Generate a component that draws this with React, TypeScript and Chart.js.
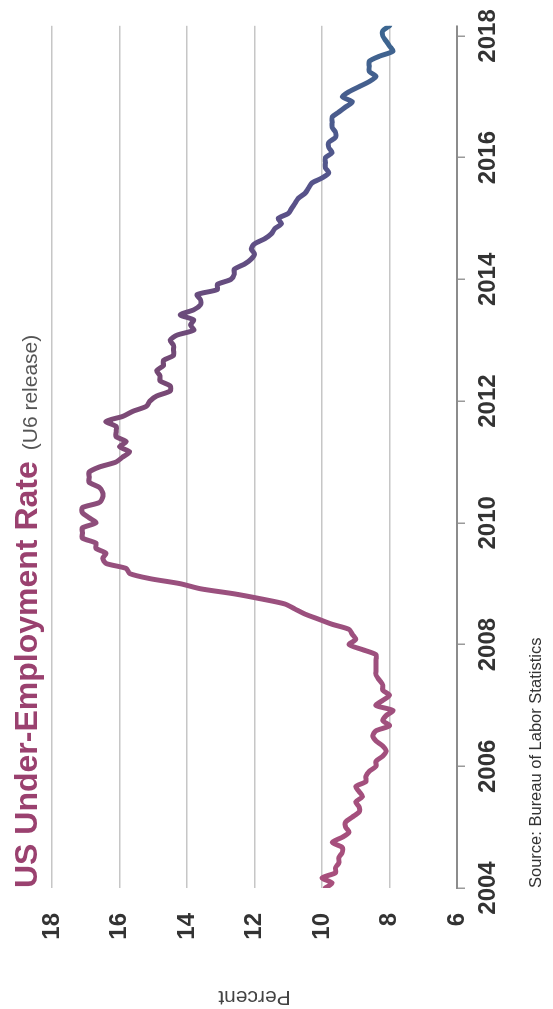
import React, { useEffect, useRef } from 'react';
import { Chart, registerables } from 'chart.js';

Chart.register(...registerables);

// Monthly U-6 rate (percent), Jan..Dec of each year
const startYear = 2004;
const u6_2004 = [9.9, 9.7, 10.0, 9.6, 9.6, 9.5, 9.5, 9.4, 9.4, 9.7, 9.4, 9.2];
const u6_2005 = [9.3, 9.3, 9.1, 8.9, 8.9, 9.0, 8.8, 8.9, 9.0, 8.7, 8.7, 8.6];
const u6_2006 = [8.4, 8.4, 8.2, 8.1, 8.2, 8.4, 8.5, 8.4, 8.0, 8.2, 8.1, 7.9];
const u6_2007 = [8.4, 8.2, 8.0, 8.2, 8.2, 8.3, 8.4, 8.4, 8.4, 8.4, 8.4, 8.8];
const u6_2008 = [9.2, 9.0, 9.1, 9.2, 9.7, 10.1, 10.5, 10.8, 11.1, 11.8, 12.6, 13.6];
const u6_2009 = [14.2, 15.1, 15.7, 15.8, 16.4, 16.5, 16.4, 16.7, 16.7, 17.1, 17.1, 17.1];
const u6_2010 = [16.7, 16.9, 17.1, 17.1, 16.6, 16.5, 16.5, 16.6, 16.9, 16.9, 16.9, 16.6];
const u6_2011 = [16.1, 15.9, 15.7, 16.0, 15.8, 16.1, 16.1, 16.1, 16.4, 15.9, 15.6, 15.2];
const u6_2012 = [15.1, 14.9, 14.5, 14.5, 14.8, 14.8, 14.9, 14.7, 14.7, 14.4, 14.4, 14.4];
const u6_2013 = [14.5, 14.3, 13.8, 13.9, 13.8, 14.2, 13.8, 13.6, 13.6, 13.7, 13.1, 13.1];
const u6_2014 = [12.7, 12.6, 12.6, 12.3, 12.1, 12.0, 12.1, 12.0, 11.7, 11.5, 11.4, 11.2];
const u6_2015 = [11.3, 11.0, 10.9, 10.8, 10.7, 10.5, 10.4, 10.3, 10.0, 9.8, 9.9, 9.9];
const u6_2016 = [9.9, 9.7, 9.8, 9.8, 9.6, 9.6, 9.7, 9.7, 9.7, 9.5, 9.3, 9.1];
const u6_2017 = [9.4, 9.2, 8.9, 8.6, 8.4, 8.6, 8.6, 8.6, 8.3, 7.9, 8.0, 8.1];
const u6_2018 = [8.2, 8.2, 8.0];
const u6Series = [
  u6_2004, u6_2005, u6_2006, u6_2007, u6_2008, u6_2009, u6_2010, u6_2011,
  u6_2012, u6_2013, u6_2014, u6_2015, u6_2016, u6_2017, u6_2018,
];

const yearTicks = [2004, 2006, 2008, 2010, 2012, 2014, 2016, 2018];
const percentTicks = [6, 8, 10, 12, 14, 16, 18];

const titleMain = 'US Under-Employment Rate';
const titleSub = '(U6 release)';
const sourceText = 'Source: Bureau of Labor Statistics';
const axisTitle = 'Percent';

const W = 1009;
const H = 553;
const FONT = '"Liberation Sans", Arial, Helvetica, sans-serif';

export default function App() {
  const ref = useRef<HTMLCanvasElement>(null);

  useEffect(() => {
    document.body.style.margin = '0';
    document.body.style.overflow = 'hidden';
    Chart.defaults.font.family = FONT;

    const points: { x: number; y: number }[] = [];
    u6Series.forEach((arr, yi) =>
      arr.forEach((v, m) => points.push({ x: startYear + yi + m / 12, y: v }))
    );
    const lastX = points[points.length - 1].x;

    const textPlugin = {
      id: 'texts',
      afterDraw(chart: any) {
        const { ctx, chartArea } = chart;
        ctx.save();
        ctx.textBaseline = 'alphabetic';
        ctx.textAlign = 'left';
        ctx.font = `bold 32px ${FONT}`;
        ctx.fillStyle = '#9a416f';
        ctx.fillText(titleMain, chartArea.left, 37);
        const w = ctx.measureText(titleMain).width;
        ctx.font = `21px ${FONT}`;
        ctx.fillStyle = '#555555';
        ctx.fillText(titleSub, chartArea.left + w + 11, 37);
        ctx.font = `16.5px ${FONT}`;
        ctx.fillStyle = '#333333';
        ctx.fillText(sourceText, chartArea.left, 541);
        ctx.restore();
      },
    };

    const chart = new Chart(ref.current!, {
      type: 'line',
      data: {
        datasets: [
          {
            data: points,
            borderWidth: 5,
            pointRadius: 0,
            tension: 0.25,
            fill: false,
            borderCapStyle: 'round',
            borderJoinStyle: 'round',
            borderColor: (c: any) => {
              const ch = c.chart;
              const area = ch.chartArea;
              if (!area) return '#7a4a78';
              const g = ch.ctx.createLinearGradient(area.left, 0, area.right, 0);
              g.addColorStop(0, '#a84f7c');
              g.addColorStop(0.35, '#9a507e');
              g.addColorStop(0.6, '#744874');
              g.addColorStop(0.8, '#58528a');
              g.addColorStop(1, '#3b6690');
              return g;
            },
          } as any,
        ],
      },
      options: {
        responsive: false,
        animation: false,
        layout: { padding: { top: 52, right: 21, bottom: 0, left: 0 } },
        plugins: {
          legend: { display: false },
          tooltip: { enabled: false },
          title: { display: false },
        },
        scales: {
          x: {
            type: 'linear',
            position: 'bottom',
            min: startYear,
            max: lastX,
            afterBuildTicks: (s: any) => {
              s.ticks = yearTicks.map((v) => ({ value: v }));
            },
            afterFit: (s: any) => {
              s.height = 96;
            },
            ticks: {
              font: { size: 24, weight: 'bold' },
              color: '#333333',
              padding: 9,
              maxRotation: 0,
              autoSkip: false,
              callback: (v: any) => String(v),
            },
            grid: {
              display: true,
              drawOnChartArea: false,
              drawTicks: true,
              tickLength: 8,
              color: '#9a9a9a',
              lineWidth: 1.5,
            },
            border: { display: true, color: '#8c8c8c', width: 2 },
          },
          y: {
            type: 'linear',
            min: 6,
            max: 18,
            afterBuildTicks: (s: any) => {
              s.ticks = percentTicks.map((v) => ({ value: v }));
            },
            afterFit: (s: any) => {
              s.width = 121;
            },
            ticks: {
              font: { size: 24, weight: 'bold' },
              color: '#333333',
              padding: 25,
            },
            grid: { color: '#c6c6c6', lineWidth: 1.5, drawTicks: false },
            border: { display: false },
            title: {
              display: true,
              text: axisTitle,
              font: { size: 21 },
              color: '#444444',
              padding: 0,
            },
          },
        },
      } as any,
      plugins: [textPlugin],
    });

    return () => chart.destroy();
  }, []);

  return (
    <div
      style={{
        position: 'fixed',
        left: 0,
        top: 0,
        width: W,
        height: H,
        transformOrigin: '0 0',
        transform: `translate(0px, ${W}px) rotate(-90deg)`,
        background: '#ffffff',
      }}
    >
      <canvas ref={ref} width={W} height={H} style={{ display: 'block' }} />
    </div>
  );
}
